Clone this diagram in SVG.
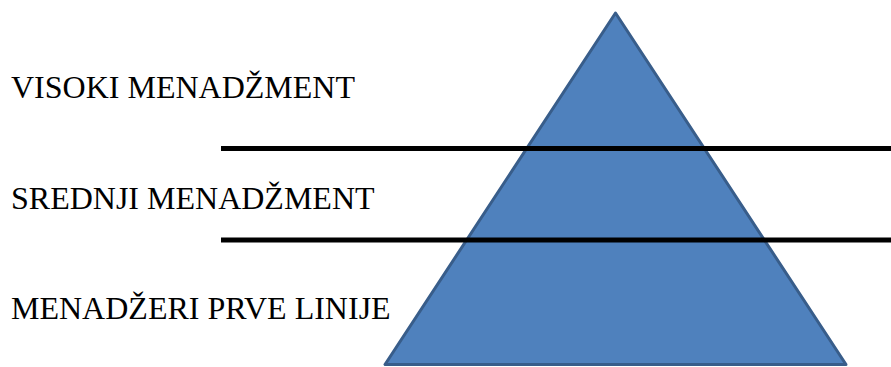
<svg xmlns="http://www.w3.org/2000/svg" width="891" height="367" viewBox="0 0 891 367">
<style>
.sep{stroke:#000;stroke-width:5}
text{font-family:"Liberation Serif",serif;font-size:32px;fill:#000}
</style>
<rect width="891" height="367" fill="#fff"/>
<g id="pyramid">
<polygon points="615.5,13 385,364.5 846,364.5" fill="#4F81BD" stroke="#385D8A" stroke-width="3" stroke-linejoin="round"/>
</g>
<g id="connectors">
<line class="sep" x1="221" y1="148.5" x2="891" y2="148.5"/>
<line class="sep" x1="221" y1="240" x2="891" y2="240"/>
</g>
<g id="level-top"><text x="11" y="98">VISOKI MENADŽMENT</text></g>
<g id="level-mid"><text x="11" y="209">SREDNJI MENADŽMENT</text></g>
<g id="level-low"><text x="11" y="319">MENADŽERI PRVE LINIJE</text></g>
</svg>
